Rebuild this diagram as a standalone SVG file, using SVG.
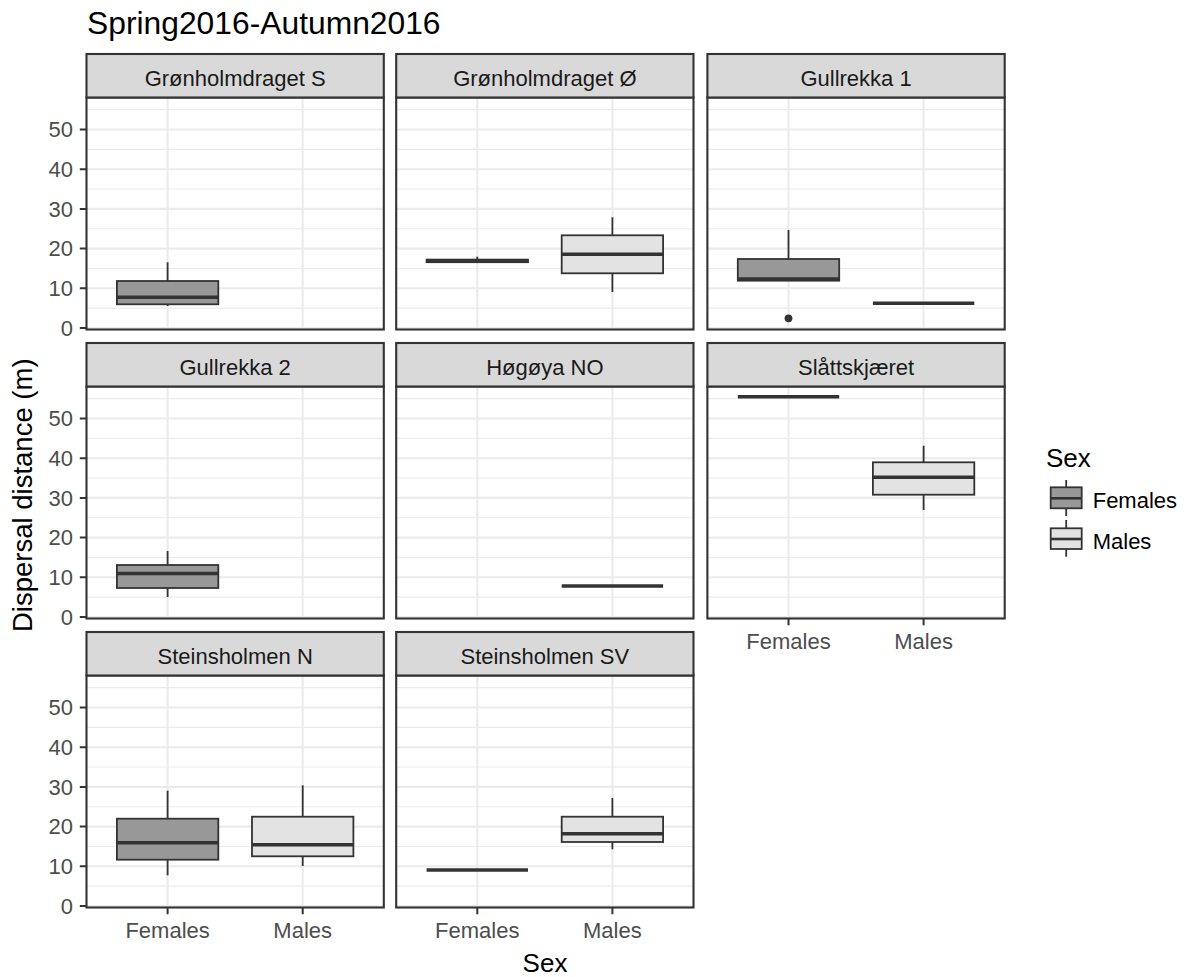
<svg xmlns="http://www.w3.org/2000/svg" xmlns:xlink="http://www.w3.org/1999/xlink" width="1188" height="977" viewBox="0 0 1188 977">
<style>
text{font-family:"Liberation Sans",Arial,sans-serif}
.title{font-size:31.8px;fill:#000}
.strip{font-size:22px;fill:#1A1A1A;text-anchor:middle}
.ytl{font-size:22px;fill:#4D4D4D;text-anchor:end}
.xtl{font-size:22px;fill:#4D4D4D;text-anchor:middle}
.axt{font-size:26px;fill:#000;text-anchor:middle}
.yaxt{font-size:27.5px;fill:#000}
.legt{font-size:26px;fill:#000}
.legl{font-size:22px;fill:#000}
.minor{stroke:#EBEBEB;stroke-width:1.1;fill:none}
.major{stroke:#EBEBEB;stroke-width:2.1;fill:none}
.border{stroke:#333333;stroke-width:2.1;fill:none}
.stripbg{fill:#D9D9D9;stroke:#333333;stroke-width:2.1}
.tick{stroke:#333333;stroke-width:2}
.bf{fill:#989898;stroke:#333333;stroke-width:1.8}
.bm{fill:#E3E3E3;stroke:#333333;stroke-width:1.8}
.med{stroke:#333333;stroke-width:3.4;fill:none}
.wh{stroke:#333333;stroke-width:1.8;fill:none}
</style>
<defs>
<g id="grid">
<path class="minor" d="M0 210.65H297.3M0 170.95H297.3M0 131.25H297.3M0 91.55H297.3M0 51.85H297.3M0 12.15H297.3"/>
<path class="major" d="M0 230.5H297.3M0 190.8H297.3M0 151.1H297.3M0 111.4H297.3M0 71.7H297.3M0 32H297.3M81.1 0V232M216.2 0V232"/>
</g>
<rect id="frame" class="border" x="0" y="0" width="297.3" height="232"/>
<rect id="stripbox" class="stripbg" x="0" y="0" width="297.3" height="43.5"/>
<path id="yticks" class="tick" d="M79.8 0H86.5M79.8 -39.7H86.5M79.8 -79.4H86.5M79.8 -119.1H86.5M79.8 -158.8H86.5M79.8 -198.5H86.5"/>
<path id="xticks" class="tick" d="M81.1 0V6.7M216.2 0V6.7"/>
</defs>
<rect width="1188" height="977" fill="#FFFFFF"/>
<text class="title" x="87" y="34">Spring2016-Autumn2016</text>

<!-- Panel 1 -->
<g id="p-gronholmdraget-s">
<use xlink:href="#grid" transform="translate(86.5,97.5)"/>
<line class="wh" x1="167.6" y1="262.3" x2="167.6" y2="281"/>
<line class="wh" x1="167.6" y1="304.3" x2="167.6" y2="306"/>
<rect class="bf" x="116.9" y="281" width="101.4" height="23.3"/>
<line class="med" x1="116.9" y1="297.3" x2="218.3" y2="297.3"/>
<use xlink:href="#frame" transform="translate(86.5,97.5)"/>
<use xlink:href="#stripbox" transform="translate(86.5,54)"/>
<text class="strip" x="235.15" y="85.5">Grønholmdraget S</text>
</g>

<!-- Panel 2 -->
<g id="p-gronholmdraget-o">
<use xlink:href="#grid" transform="translate(396.2,97.5)"/>
<line class="wh" x1="477.3" y1="256.7" x2="477.3" y2="260"/>
<rect class="bf" x="426.6" y="259.6" width="101.4" height="2.6"/>
<line class="med" x1="426.6" y1="261" x2="528" y2="261"/>
<line class="wh" x1="612.4" y1="217.3" x2="612.4" y2="235.3"/>
<line class="wh" x1="612.4" y1="273.3" x2="612.4" y2="292"/>
<rect class="bm" x="561.7" y="235.3" width="101.4" height="38"/>
<line class="med" x1="561.7" y1="254.3" x2="663.1" y2="254.3"/>
<use xlink:href="#frame" transform="translate(396.2,97.5)"/>
<use xlink:href="#stripbox" transform="translate(396.2,54)"/>
<text class="strip" x="544.85" y="85.5">Grønholmdraget Ø</text>
</g>

<!-- Panel 3 -->
<g id="p-gullrekka-1">
<use xlink:href="#grid" transform="translate(707.4,97.5)"/>
<line class="wh" x1="788.5" y1="230" x2="788.5" y2="259"/>
<rect class="bf" x="737.8" y="259" width="101.4" height="21.7"/>
<line class="med" x1="737.8" y1="279" x2="839.2" y2="279"/>
<circle cx="788.5" cy="318.3" r="3.9" fill="#333333"/>
<line class="med" x1="872.9" y1="303.3" x2="974.3" y2="303.3"/>
<use xlink:href="#frame" transform="translate(707.4,97.5)"/>
<use xlink:href="#stripbox" transform="translate(707.4,54)"/>
<text class="strip" x="856.05" y="85.5">Gullrekka 1</text>
</g>

<!-- Panel 4 -->
<g id="p-gullrekka-2">
<use xlink:href="#grid" transform="translate(86.5,386.5)"/>
<line class="wh" x1="167.6" y1="551" x2="167.6" y2="565"/>
<line class="wh" x1="167.6" y1="588" x2="167.6" y2="597"/>
<rect class="bf" x="116.9" y="565" width="101.4" height="23"/>
<line class="med" x1="116.9" y1="573.5" x2="218.3" y2="573.5"/>
<use xlink:href="#frame" transform="translate(86.5,386.5)"/>
<use xlink:href="#stripbox" transform="translate(86.5,343)"/>
<text class="strip" x="235.15" y="374.5">Gullrekka 2</text>
</g>

<!-- Panel 5 -->
<g id="p-hogoya-no">
<use xlink:href="#grid" transform="translate(396.2,386.5)"/>
<line class="med" x1="561.7" y1="586" x2="663.1" y2="586"/>
<use xlink:href="#frame" transform="translate(396.2,386.5)"/>
<use xlink:href="#stripbox" transform="translate(396.2,343)"/>
<text class="strip" x="544.85" y="374.5">Høgøya NO</text>
</g>

<!-- Panel 6 -->
<g id="p-slattskjaeret">
<use xlink:href="#grid" transform="translate(707.4,386.5)"/>
<line class="med" x1="737.8" y1="396.7" x2="839.2" y2="396.7"/>
<line class="wh" x1="923.6" y1="445.7" x2="923.6" y2="462.3"/>
<line class="wh" x1="923.6" y1="494.7" x2="923.6" y2="510"/>
<rect class="bm" x="872.9" y="462.3" width="101.4" height="32.4"/>
<line class="med" x1="872.9" y1="477.3" x2="974.3" y2="477.3"/>
<use xlink:href="#frame" transform="translate(707.4,386.5)"/>
<use xlink:href="#stripbox" transform="translate(707.4,343)"/>
<text class="strip" x="856.05" y="374.5">Slåttskjæret</text>
</g>

<!-- Panel 7 -->
<g id="p-steinsholmen-n">
<use xlink:href="#grid" transform="translate(86.5,675.5)"/>
<line class="wh" x1="167.6" y1="790.7" x2="167.6" y2="818.7"/>
<line class="wh" x1="167.6" y1="859.7" x2="167.6" y2="875.3"/>
<rect class="bf" x="116.9" y="818.7" width="101.4" height="41"/>
<line class="med" x1="116.9" y1="842.7" x2="218.3" y2="842.7"/>
<line class="wh" x1="302.7" y1="785.3" x2="302.7" y2="816.7"/>
<line class="wh" x1="302.7" y1="856.3" x2="302.7" y2="866"/>
<rect class="bm" x="252" y="816.7" width="101.4" height="39.6"/>
<line class="med" x1="252" y1="844.7" x2="353.4" y2="844.7"/>
<use xlink:href="#frame" transform="translate(86.5,675.5)"/>
<use xlink:href="#stripbox" transform="translate(86.5,632)"/>
<text class="strip" x="235.15" y="663.5">Steinsholmen N</text>
</g>

<!-- Panel 8 -->
<g id="p-steinsholmen-sv">
<use xlink:href="#grid" transform="translate(396.2,675.5)"/>
<line class="med" x1="426.6" y1="870" x2="528" y2="870"/>
<line class="wh" x1="612.4" y1="798" x2="612.4" y2="816.7"/>
<line class="wh" x1="612.4" y1="842" x2="612.4" y2="849.3"/>
<rect class="bm" x="561.7" y="816.7" width="101.4" height="25.3"/>
<line class="med" x1="561.7" y1="833.7" x2="663.1" y2="833.7"/>
<use xlink:href="#frame" transform="translate(396.2,675.5)"/>
<use xlink:href="#stripbox" transform="translate(396.2,632)"/>
<text class="strip" x="544.85" y="663.5">Steinsholmen SV</text>
</g>

<!-- Axes -->
<g id="axes">
<use xlink:href="#yticks" transform="translate(0,328)"/>
<use xlink:href="#yticks" transform="translate(0,617)"/>
<use xlink:href="#yticks" transform="translate(0,906)"/>
<text class="ytl" x="73" y="335.7">0</text>
<text class="ytl" x="73" y="296">10</text>
<text class="ytl" x="73" y="256.3">20</text>
<text class="ytl" x="73" y="216.6">30</text>
<text class="ytl" x="73" y="176.9">40</text>
<text class="ytl" x="73" y="137.2">50</text>
<text class="ytl" x="73" y="624.7">0</text>
<text class="ytl" x="73" y="585">10</text>
<text class="ytl" x="73" y="545.3">20</text>
<text class="ytl" x="73" y="505.6">30</text>
<text class="ytl" x="73" y="465.9">40</text>
<text class="ytl" x="73" y="426.2">50</text>
<text class="ytl" x="73" y="913.7">0</text>
<text class="ytl" x="73" y="874">10</text>
<text class="ytl" x="73" y="834.3">20</text>
<text class="ytl" x="73" y="794.6">30</text>
<text class="ytl" x="73" y="754.9">40</text>
<text class="ytl" x="73" y="715.2">50</text>
<use xlink:href="#xticks" transform="translate(707.4,618.5)"/>
<use xlink:href="#xticks" transform="translate(86.5,907.5)"/>
<use xlink:href="#xticks" transform="translate(396.2,907.5)"/>
<text class="xtl" x="788.5" y="648.7">Females</text>
<text class="xtl" x="923.6" y="648.7">Males</text>
<text class="xtl" x="167.6" y="937.7">Females</text>
<text class="xtl" x="302.7" y="937.7">Males</text>
<text class="xtl" x="477.3" y="937.7">Females</text>
<text class="xtl" x="612.4" y="937.7">Males</text>
<text class="axt" x="545" y="971.5">Sex</text>
<text class="yaxt" transform="translate(32,632) rotate(-90)">Dispersal distance (m)</text>
</g>

<!-- Legend -->
<g id="legend">
<text class="legt" x="1046" y="466.7">Sex</text>
<line class="wh" x1="1066.2" y1="480" x2="1066.2" y2="516"/>
<rect class="bf" x="1050.7" y="487.3" width="31" height="21"/>
<line class="med" x1="1050.7" y1="498.3" x2="1081.7" y2="498.3" style="stroke-width:2.6"/>
<line class="wh" x1="1066.2" y1="520" x2="1066.2" y2="556.7"/>
<rect class="bm" x="1050.7" y="528.3" width="31" height="20.7"/>
<line class="med" x1="1050.7" y1="539" x2="1081.7" y2="539" style="stroke-width:2.6"/>
<text class="legl" x="1092.7" y="508">Females</text>
<text class="legl" x="1092.7" y="549">Males</text>
</g>
</svg>
